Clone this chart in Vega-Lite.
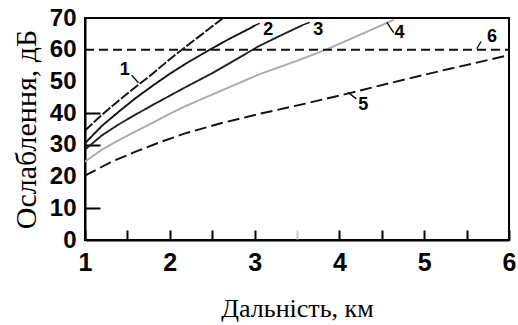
{
  "$schema": "https://vega.github.io/schema/vega-lite/v6.json",
  "width": 424,
  "height": 222,
  "autosize": {"type": "none"},
  "padding": {"left": 85, "top": 18, "right": 9, "bottom": 85},
  "background": "white",
  "config": {
    "view": {"stroke": "black", "strokeWidth": 2},
    "axis": {"grid": false, "domainColor": "black", "domainWidth": 2, "labelColor": "black", "titleColor": "black"}
  },
  "datasets": {
    "curves": [
      {"s": "1", "x": 1, "y": 34.5}, {"s": "1", "x": 1.2, "y": 39.5}, {"s": "1", "x": 1.4, "y": 44}, {"s": "1", "x": 1.6, "y": 48.3}, {"s": "1", "x": 1.8, "y": 52.5}, {"s": "1", "x": 2.0, "y": 57}, {"s": "1", "x": 2.2, "y": 61.2}, {"s": "1", "x": 2.4, "y": 65.3}, {"s": "1", "x": 2.63, "y": 70},
      {"s": "2", "x": 1, "y": 30.5}, {"s": "2", "x": 1.2, "y": 36}, {"s": "2", "x": 1.4, "y": 40.5}, {"s": "2", "x": 1.6, "y": 44.8}, {"s": "2", "x": 1.8, "y": 48.7}, {"s": "2", "x": 2.0, "y": 52.4}, {"s": "2", "x": 2.2, "y": 55.8}, {"s": "2", "x": 2.47, "y": 60}, {"s": "2", "x": 2.7, "y": 63.4}, {"s": "2", "x": 3.0, "y": 67.5},
      {"s": "3", "x": 1, "y": 28.5}, {"s": "3", "x": 1.2, "y": 33}, {"s": "3", "x": 1.4, "y": 36.5}, {"s": "3", "x": 1.6, "y": 39.6}, {"s": "3", "x": 1.8, "y": 42.6}, {"s": "3", "x": 2.0, "y": 45.5}, {"s": "3", "x": 2.2, "y": 48.4}, {"s": "3", "x": 2.5, "y": 52.6}, {"s": "3", "x": 2.8, "y": 57.2}, {"s": "3", "x": 3.04, "y": 61}, {"s": "3", "x": 3.3, "y": 64.4}, {"s": "3", "x": 3.57, "y": 67.8},
      {"s": "4", "x": 1, "y": 24.7}, {"s": "4", "x": 1.2, "y": 28.5}, {"s": "4", "x": 1.4, "y": 31.5}, {"s": "4", "x": 1.6, "y": 34.3}, {"s": "4", "x": 1.8, "y": 37}, {"s": "4", "x": 2.0, "y": 39.8}, {"s": "4", "x": 2.2, "y": 42.4}, {"s": "4", "x": 2.6, "y": 47}, {"s": "4", "x": 3.06, "y": 52.3}, {"s": "4", "x": 3.5, "y": 56.5}, {"s": "4", "x": 3.85, "y": 60.1}, {"s": "4", "x": 4.2, "y": 64.2}, {"s": "4", "x": 4.64, "y": 69.4},
      {"s": "5", "x": 1, "y": 20.3}, {"s": "5", "x": 1.3, "y": 24.5}, {"s": "5", "x": 1.59, "y": 27.8}, {"s": "5", "x": 1.9, "y": 31}, {"s": "5", "x": 2.18, "y": 33.6}, {"s": "5", "x": 2.6, "y": 36.8}, {"s": "5", "x": 3.06, "y": 39.8}, {"s": "5", "x": 3.6, "y": 43}, {"s": "5", "x": 4.12, "y": 46.3}, {"s": "5", "x": 4.6, "y": 49.5}, {"s": "5", "x": 5.19, "y": 53.3}, {"s": "5", "x": 5.6, "y": 55.8}, {"s": "5", "x": 6, "y": 58.3},
      {"s": "6", "x": 1, "y": 60}, {"s": "6", "x": 6, "y": 60}
    ],
    "labels": [
      {"t": "1", "x": 1.47, "y": 53.6},
      {"t": "2", "x": 3.16, "y": 66.2},
      {"t": "3", "x": 3.75, "y": 66.2},
      {"t": "4", "x": 4.71, "y": 65.2},
      {"t": "5", "x": 4.28, "y": 42.6},
      {"t": "6", "x": 5.8, "y": 64.1}
    ],
    "leaders": [
      {"x": 1.55, "y": 52.0, "x2": 1.63, "y2": 49.6},
      {"x": 2.97, "y": 67.3, "x2": 3.06, "y2": 68.3},
      {"x": 3.57, "y": 67.8, "x2": 3.65, "y2": 68.6},
      {"x": 4.56, "y": 68.6, "x2": 4.64, "y2": 65.4},
      {"x": 4.1, "y": 46.6, "x2": 4.2, "y2": 44.5},
      {"x": 5.62, "y": 60.3, "x2": 5.67, "y2": 62.6}
    ]
  },
  "encoding": {
    "x": {
      "field": "x", "type": "quantitative",
      "scale": {"domain": [1, 6], "nice": false, "zero": false},
      "axis": {
        "values": [1, 1.5, 2, 2.5, 3, 3.5, 4, 4.5, 5, 5.5, 6],
        "labelExpr": "datum.value % 1 == 0 ? format(datum.value, 'd') : ''",
        "labelOverlap": false,
        "tickSize": -10, "tickWidth": 2,
        "tickColor": {"condition": {"test": "datum.value == 3.5", "value": "#cccccc"}, "value": "black"},
        "labelFont": "Liberation Sans", "labelFontSize": 25, "labelFontWeight": "bold",
        "labelFlush": false, "labelPadding": 20, "labelBaseline": "top",
        "title": "Дальність, км", "titleFont": "Liberation Serif", "titleFontSize": 26, "titleFontWeight": "normal", "titlePadding": 20
      }
    },
    "y": {
      "field": "y", "type": "quantitative",
      "scale": {"domain": [0, 70], "nice": false},
      "axis": {
        "values": [0, 10, 20, 30, 40, 50, 60, 70],
        "labelOverlap": false,
        "tickSize": -15, "tickWidth": 2, "tickColor": "black",
        "tickOpacity": {"condition": {"test": "datum.value == 10 || datum.value == 30 || datum.value == 40", "value": 1}, "value": 0},
        "labelFont": "Liberation Sans", "labelFontSize": 24, "labelFontWeight": "bold",
        "labelFlush": false, "labelPadding": 24,
        "title": "Ослаблення, дБ", "titleFont": "Liberation Serif", "titleFontSize": 30, "titleFontWeight": "normal", "titlePadding": 8
      }
    }
  },
  "layer": [
    {
      "data": {"name": "curves"},
      "mark": {"type": "line", "strokeWidth": 1.9, "clip": true},
      "encoding": {
        "color": {
          "field": "s", "type": "nominal", "legend": null,
          "scale": {"domain": ["1", "2", "3", "4", "5", "6"], "range": ["#111111", "#111111", "#222222", "#aaaaaa", "#111111", "#111111"]}
        },
        "strokeDash": {
          "field": "s", "type": "nominal", "legend": null,
          "scale": {"domain": ["1", "2", "3", "4", "5", "6"], "range": [[10, 2], [1, 0], [1, 0], [1, 0], [12, 5], [9, 5]]}
        }
      }
    },
    {
      "data": {"name": "leaders"},
      "mark": {"type": "rule", "color": "black", "strokeWidth": 1.3},
      "encoding": {
        "x2": {"field": "x2"},
        "y2": {"field": "y2"}
      }
    },
    {
      "data": {"name": "labels"},
      "mark": {"type": "text", "font": "Liberation Sans", "fontSize": 18, "fontWeight": "bold", "color": "black"},
      "encoding": {
        "text": {"field": "t"}
      }
    }
  ]
}
